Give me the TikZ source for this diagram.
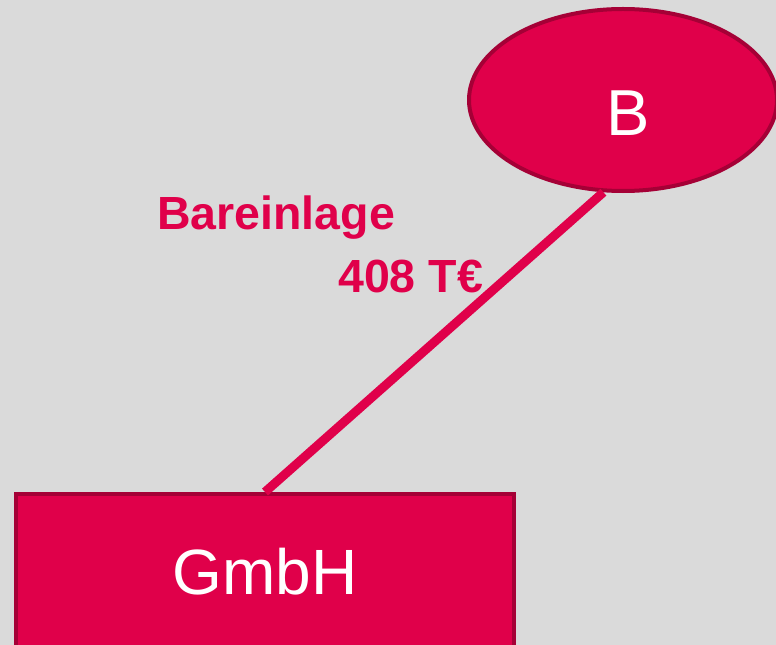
\documentclass[tikz,border=0pt]{standalone}
\usepackage{fontspec}
\setmainfont{Liberation Sans}
\usetikzlibrary{shapes.geometric}
\definecolor{crim}{HTML}{E0004A}
\definecolor{crimdark}{HTML}{A50036}
\definecolor{bg}{HTML}{DADADA}
\tikzset{
  entity/.style={fill=crim, draw=crimdark, line width=4bp, inner sep=0pt, text=white},
  flow/.style={draw=crim, line width=9bp},
  flowlabel/.style={text=crim, font=\fontsize{46.5bp}{50bp}\selectfont\bfseries, inner sep=0pt, anchor=base west}
}
\begin{document}
\begin{tikzpicture}[x=1bp,y=-1bp]
\useasboundingbox (0,0) rectangle (776,645);
\fill[bg] (0,0) rectangle (776,645);
\begin{scope}
\clip (0,0) rectangle (776,645);
\node[entity, ellipse, minimum width=308bp, minimum height=182bp,
      text height=71bp, text depth=0bp,
      font=\fontsize{65bp}{70bp}\selectfont] (B) at (623,100) {\hspace{10bp}B};
\node[entity, rectangle, minimum width=498bp, minimum height=156bp,
      font=\fontsize{64bp}{70bp}\selectfont] (G) at (265,572) {GmbH};
\draw[flow] (B.258) -- (G.north);
\end{scope}
\node[flowlabel] (L1) at (157,230) {Bareinlage};
\node[flowlabel] (L2) at (338,292) {408 T€};
\end{tikzpicture}
\end{document}
